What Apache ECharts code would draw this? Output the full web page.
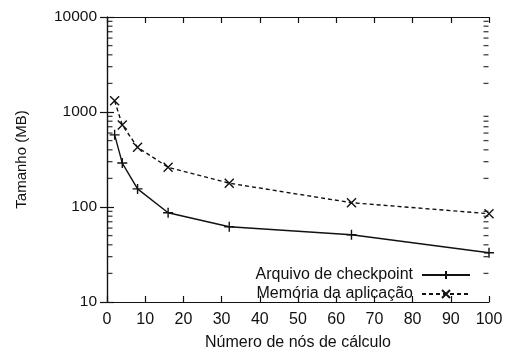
<!DOCTYPE html>
<html>
<head>
<meta charset="utf-8">
<title>Tamanho por número de nós</title>
<script src="https://cdn.jsdelivr.net/npm/echarts@6/dist/echarts.min.js"></script>
<style>
  html, body { margin: 0; padding: 0; background: #fff; }
  #chart { width: 507px; height: 356px; }
</style>
</head>
<body>
<div id="chart"></div>
<script>
// Número de nós de cálculo
const nodes = [2, 4, 8, 16, 32, 64, 100];
// Tamanho em MB
const checkpointMB = [575, 290, 155, 87, 62, 51, 33];
const memoriaMB = [1310, 730, 425, 262, 178, 111, 85];

const seriesNames = ['Arquivo de checkpoint', 'Memória da aplicação'];
const xAxisTitle = 'Número de nós de cálculo';
const yAxisTitle = 'Tamanho (MB)';

// Minor ticks for the log axis: 2..9 in each decade between 10 and 10000
const minorTickValues = [];
[10, 100, 1000].forEach(function (d) {
  for (let k = 2; k <= 9; k++) minorTickValues.push(k * d);
});
const xMin = 0, xMax = 100;

const font = '"Liberation Sans", Arial, Helvetica, sans-serif';
const ink = '#111';

const plusSymbol = 'path://M0,5 L10,5 M5,0 L5,10';
const crossSymbol = 'path://M0,0 L10,10 M0,10 L10,0';

const chart = echarts.init(document.getElementById('chart'), null, { renderer: 'canvas' });

const axisLineStyle = { color: ink, width: 1.2 };
const plainNumber = function (v) { return String(Math.round(v)); };

// short inward marks along the left and right frame edges
function minorTickSeries(xValue, offset) {
  return {
    type: 'scatter',
    silent: true,
    clip: false,
    symbol: 'rect',
    symbolSize: [5, 1.3],
    symbolOffset: [offset, 0],
    itemStyle: { color: ink },
    data: minorTickValues.map(function (v) { return [xValue, v]; }),
    z: 10
  };
}

chart.setOption({
  animation: false,
  backgroundColor: '#fff',
  textStyle: { fontFamily: font, color: ink },
  grid: { left: 107, right: 18, top: 17, bottom: 53 },
  legend: {
    data: seriesNames,
    orient: 'vertical',
    align: 'right',
    right: 31,
    top: 262,
    itemWidth: 48,
    itemHeight: 10,
    itemGap: 3,
    textStyle: { fontFamily: font, fontSize: 16, color: ink, padding: [0, 4, 0, 0] }
  },
  xAxis: [
    {
      type: 'value', min: xMin, max: xMax, interval: 10,
      name: xAxisTitle, nameLocation: 'middle', nameGap: 33,
      nameTextStyle: { fontFamily: font, fontSize: 16, color: ink },
      axisLine: { lineStyle: axisLineStyle },
      axisTick: { inside: true, length: 6, lineStyle: { color: ink, width: 1.2 } },
      axisLabel: { fontFamily: font, fontSize: 16, color: ink, margin: 10 },
      splitLine: { show: false }
    },
    {
      type: 'value', min: xMin, max: xMax, interval: 10, position: 'top',
      axisLine: { lineStyle: axisLineStyle },
      axisTick: { inside: true, length: 6, lineStyle: { color: ink, width: 1.2 } },
      axisLabel: { show: false },
      splitLine: { show: false }
    }
  ],
  yAxis: [
    {
      type: 'log', logBase: 10, min: 10, max: 10000,
      name: yAxisTitle, nameLocation: 'middle', nameGap: 78,
      nameTextStyle: { fontFamily: font, fontSize: 15, color: ink },
      axisLine: { show: true, lineStyle: axisLineStyle },
      axisTick: { show: true, inside: true, length: 7, lineStyle: { color: ink, width: 1.2 } },
      axisLabel: { fontFamily: font, fontSize: 15.5, color: ink, margin: 10, formatter: plainNumber },
      splitLine: { show: false }
    },
    {
      type: 'log', logBase: 10, min: 10, max: 10000, position: 'right',
      axisLine: { show: true, lineStyle: axisLineStyle },
      axisTick: { show: true, inside: true, length: 7, lineStyle: { color: ink, width: 1.2 } },
      axisLabel: { show: false },
      splitLine: { show: false }
    }
  ],
  series: [
    {
      name: seriesNames[0],
      type: 'line',
      data: nodes.map(function (n, i) { return [n, checkpointMB[i]]; }),
      symbol: plusSymbol,
      symbolSize: 10,
      lineStyle: { color: ink, width: 1.4, type: 'solid' },
      itemStyle: { color: 'rgba(0,0,0,0)', borderColor: ink, borderWidth: 1.4 },
      z: 3
    },
    {
      name: seriesNames[1],
      type: 'line',
      data: nodes.map(function (n, i) { return [n, memoriaMB[i]]; }),
      symbol: crossSymbol,
      symbolSize: 9,
      lineStyle: { color: ink, width: 1.4, type: [4, 3] },
      itemStyle: { color: 'rgba(0,0,0,0)', borderColor: ink, borderWidth: 1.4 },
      z: 3
    },
    minorTickSeries(xMin, 3),
    minorTickSeries(xMax, -3)
  ]
});
</script>
</body>
</html>
